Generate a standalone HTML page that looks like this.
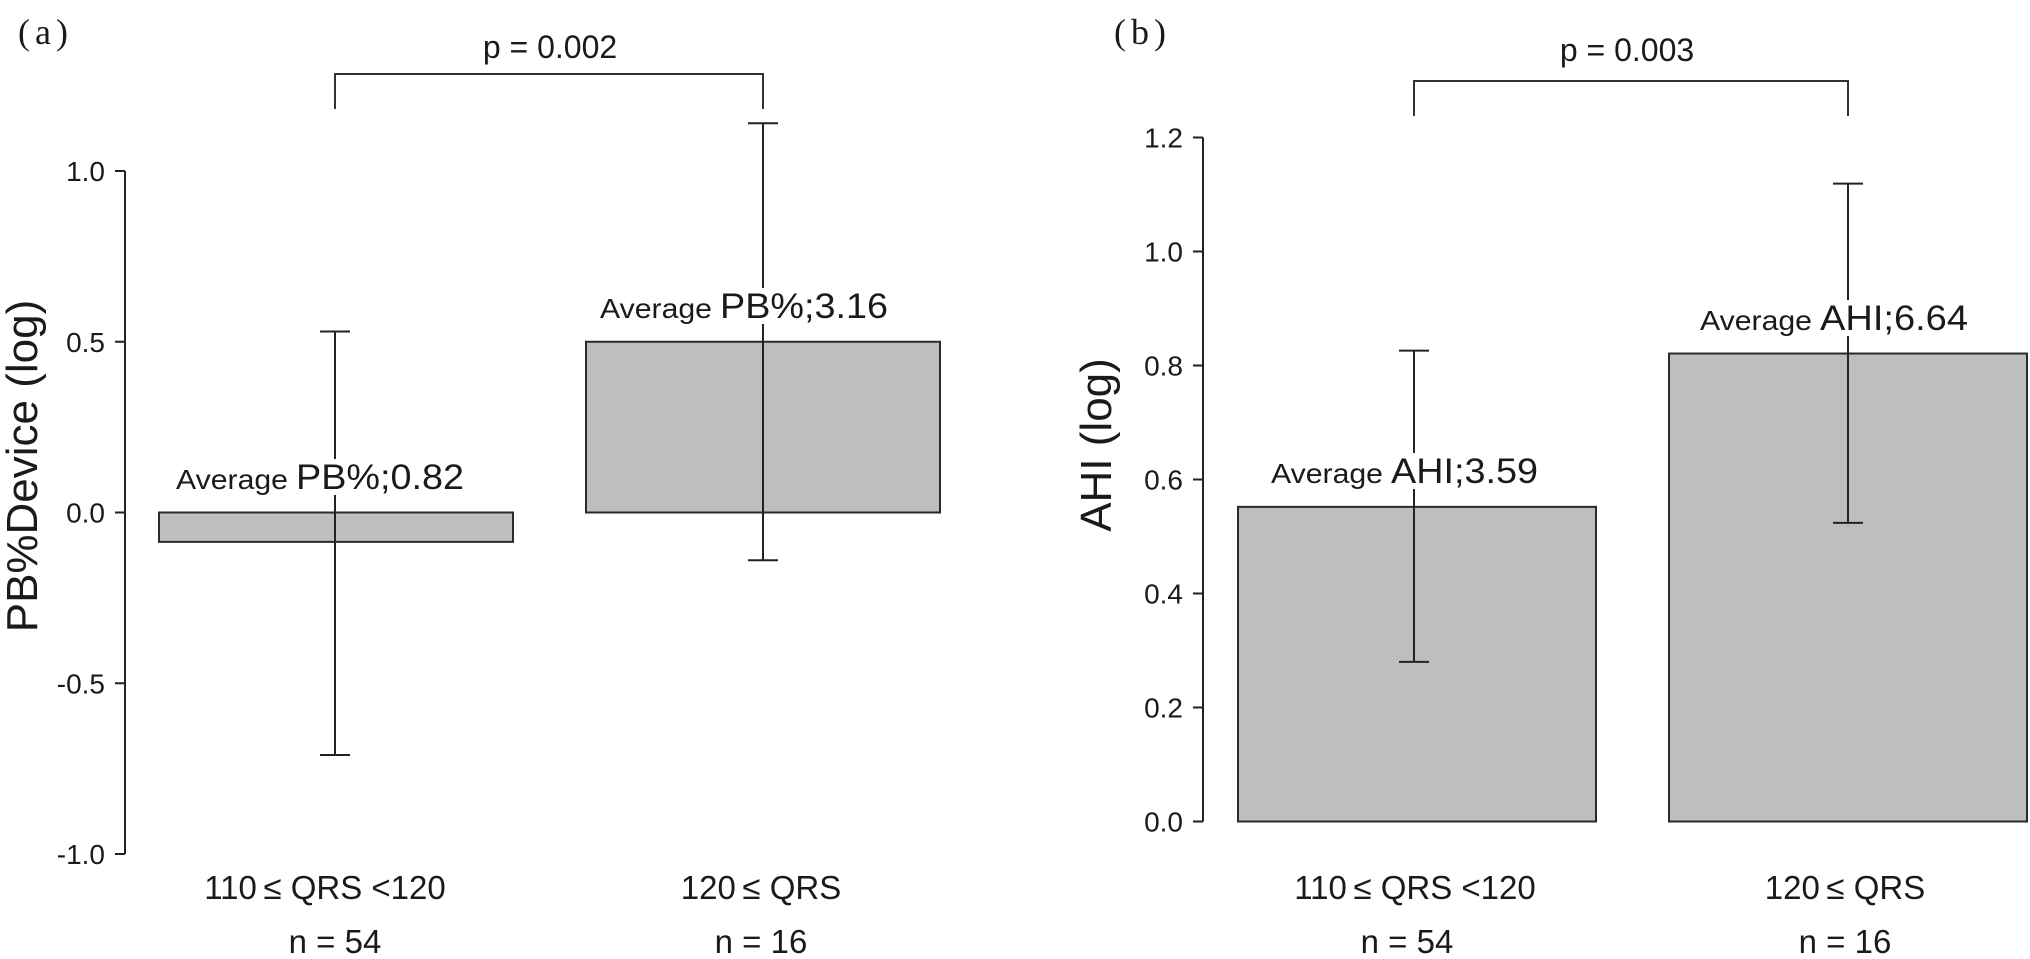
<!DOCTYPE html>
<html><head><meta charset="utf-8"><style>
html,body{margin:0;padding:0;background:#fff;}
svg{display:block;font-family:"Liberation Sans",Arial,sans-serif;}
text{fill:#1a1a1a;}
</style></head><body>
<svg id="chart" width="2030" height="959" viewBox="0 0 2030 959" xmlns="http://www.w3.org/2000/svg"></svg>
<script>
const categories = ["110\u2009\u2264 QRS <120", "120\u2009\u2264 QRS"];
const groupN = ["n = 54", "n = 16"];
const pbMeans = [-0.086, 0.5];
const pbUpper = [0.53, 1.14];
const pbLower = [-0.71, -0.14];
const pbAverages = ["0.82", "3.16"];
const pbTicks = [-1.0, -0.5, 0.0, 0.5, 1.0];
const pbTickLabels = ["-1.0", "-0.5", "0.0", "0.5", "1.0"];
const ahiMeans = [0.552, 0.821];
const ahiUpper = [0.826, 1.119];
const ahiLower = [0.28, 0.524];
const ahiAverages = ["3.59", "6.64"];
const ahiTicks = [0, 0.2, 0.4, 0.6, 0.8, 1.0, 1.2];
const ahiTickLabels = ["0.0", "0.2", "0.4", "0.6", "0.8", "1.0", "1.2"];
const pValues = ["p = 0.002", "p = 0.003"];

const svg = document.getElementById('chart');
const NS = 'http://www.w3.org/2000/svg';
function mk(tag, attrs, parent) {
  const e = document.createElementNS(NS, tag);
  for (const k in attrs) e.setAttribute(k, attrs[k]);
  (parent || svg).appendChild(e);
  return e;
}
function panel(cfg) {
  const g = mk('g', {});
  
  
  const y = v => cfg.y0 - (v - cfg.vmin) * cfg.scale;
  const lt = mk('text', {x: cfg.letterX, y: 44, 'font-size': 36, 'letter-spacing': 5, 'font-family': '"Liberation Serif",serif'}, g);
  lt.textContent = cfg.letter;
  
  
  const ax = mk('line', {x1: cfg.axisX, x2: cfg.axisX, y1: y(cfg.ticks[cfg.ticks.length-1]), y2: y(cfg.ticks[0]), stroke: '#222', 'stroke-width': 2}, g);
  
  
  cfg.ticks.forEach((t, i) => {
    const tk = mk('line', {x1: cfg.axisX - 10, x2: cfg.axisX, y1: y(t), y2: y(t), stroke: '#222', 'stroke-width': 2}, g);
    
    
    const tl = mk('text', {x: cfg.axisX - 20, y: y(t) + 10, 'font-size': 28, 'text-anchor': 'end', fill: '#333'}, g);
    tl.textContent = cfg.tickLabels[i];
    
    
  });
  const yt = mk('text', {x: 0, y: 0, 'font-size': 44, 'text-anchor': 'middle', transform: `translate(${cfg.titleX},${cfg.titleY}) rotate(-90)`}, g);
  yt.textContent = cfg.title;
  
  
  cfg.means.forEach((m, i) => {
    const x0 = cfg.barX[i], w = cfg.barW;
    const top = Math.min(y(m), y(0)), h = Math.abs(y(m) - y(0));
    const b = mk('rect', {x: x0, y: top, width: w, height: h, fill: '#bebebe', stroke: '#2a2a2a', 'stroke-width': 2}, g);
    
    
  });
  cfg.means.forEach((m, i) => {
    const cx = cfg.errX[i];
    const eg = mk('g', {stroke: '#222', 'stroke-width': 2}, g);
    
    
    mk('line', {x1: cx, x2: cx, y1: y(cfg.upper[i]), y2: y(cfg.lower[i])}, eg);
    mk('line', {x1: cx - 15, x2: cx + 15, y1: y(cfg.upper[i]), y2: y(cfg.upper[i])}, eg);
    mk('line', {x1: cx - 15, x2: cx + 15, y1: y(cfg.lower[i]), y2: y(cfg.lower[i])}, eg);
  });
  cfg.means.forEach((m, i) => {
    const L = cfg.avgLabel[i];
    const bg = mk('rect', {fill: '#fff'}, g);
    
    
    const t = mk('text', {x: L.x, y: L.y, 'font-size': 28}, g);
    
    
    const s1 = mk('tspan', {'font-size': 28, textLength: L.w1, lengthAdjust: 'spacingAndGlyphs'}, t);
    s1.textContent = 'Average';
    const s2 = mk('tspan', {'font-size': 35, dx: 8, textLength: L.w2, lengthAdjust: 'spacingAndGlyphs'}, t);
    s2.textContent = cfg.metric + ';' + cfg.avgs[i];
    const bb = t.getBBox();
    bg.setAttribute('x', bb.x);
    bg.setAttribute('y', L.y - 30);
    bg.setAttribute('width', bb.width);
    bg.setAttribute('height', 36);
  });
  const br = mk('polyline', {points: `${cfg.errX[0]},${cfg.brBot} ${cfg.errX[0]},${cfg.brY} ${cfg.errX[1]},${cfg.brY} ${cfg.errX[1]},${cfg.brBot}`, fill: 'none', stroke: '#333', 'stroke-width': 2}, g);
  
  
  const pt = mk('text', {x: cfg.pX, y: cfg.pY, 'font-size': 32, 'text-anchor': 'middle'}, g);
  pt.textContent = cfg.p;
  
  
  categories.forEach((c, i) => {
    const ct = mk('text', {x: cfg.catX[i], y: 899, 'font-size': 33, 'text-anchor': 'middle'}, g);
    ct.textContent = c;
    
    
    const nt = mk('text', {x: cfg.nX[i], y: 953, 'font-size': 33, 'text-anchor': 'middle'}, g);
    nt.textContent = groupN[i];
    
    
  });
}
panel({name: 'panel-a', letter: '(a)', letterX: 18, axisX: 125, y0: 854, vmin: -1.0, scale: 341.5,
  ticks: pbTicks, tickLabels: pbTickLabels, title: 'PB%Device (log)', titleX: 37, titleY: 466,
  means: pbMeans, upper: pbUpper, lower: pbLower, avgs: pbAverages, metric: 'PB%',
  barX: [159, 586], barW: 354, errX: [335, 763],
  avgLabel: [{x: 176, y: 489, w1: 112, w2: 168}, {x: 600, y: 318, w1: 112, w2: 168}],
  brY: 74, brBot: 109, pX: 550, pY: 58, p: pValues[0], catX: [325, 761], nX: [335, 761]});
panel({name: 'panel-b', letter: '(b)', letterX: 1114, axisX: 1203, y0: 821.5, vmin: 0, scale: 570,
  ticks: ahiTicks, tickLabels: ahiTickLabels, title: 'AHI (log)', titleX: 1111, titleY: 445,
  means: ahiMeans, upper: ahiUpper, lower: ahiLower, avgs: ahiAverages, metric: 'AHI',
  barX: [1238, 1669], barW: 358, errX: [1414, 1848],
  avgLabel: [{x: 1271, y: 483, w1: 112, w2: 147}, {x: 1700, y: 330, w1: 112, w2: 148}],
  brY: 81, brBot: 116, pX: 1627, pY: 61, p: pValues[1], catX: [1415, 1845], nX: [1407, 1845]});
</script>
</body></html>
